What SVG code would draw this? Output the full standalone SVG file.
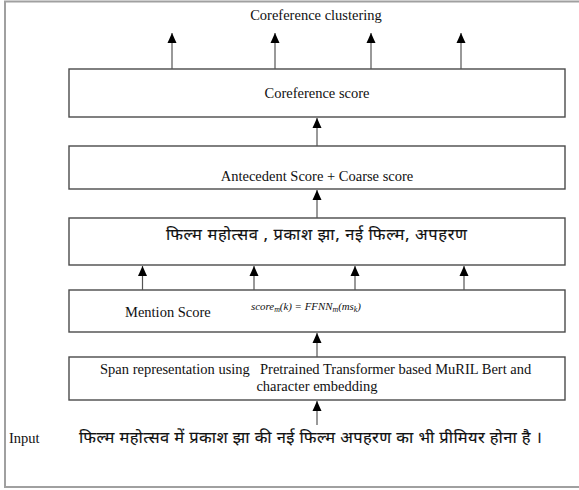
<svg xmlns="http://www.w3.org/2000/svg" width="579" height="490" viewBox="0 0 579 490">
  <style>
    .frame { fill: none; stroke: #a0a0a0; stroke-width: 2; }
    .box { fill: #ffffff; stroke: #4a4a4a; stroke-width: 1.4; }
    .lbl { font-family: "Liberation Serif", "Times New Roman", serif; font-size: 14.5px; fill: #111; }
    .hin { font-family: "Noto Sans Devanagari", "Noto Sans", "Lohit Devanagari", sans-serif; font-size: 16.5px; fill: #111; stroke: #111; stroke-width: 0.12; }
    .math { font-family: "Liberation Serif", serif; font-style: italic; font-size: 11px; fill: #111; }
    .wire { fill: none; stroke: #555; stroke-width: 1.2; marker-end: url(#head); }
  </style>
  <defs>
    <marker id="head" viewBox="0 0 10 10" refX="10" refY="5" markerWidth="10" markerHeight="10" markerUnits="userSpaceOnUse" orient="auto">
      <path d="M0,0.5 L10,5 L0,9.5 z" fill="#000"/>
    </marker>
  </defs>

  <!-- outer frame; the right edge sits just past the canvas -->
  <rect class="frame" x="5" y="1.5" width="590" height="485.5"/>

  <text class="lbl" x="316" y="20" text-anchor="middle">Coreference clustering</text>

  <g id="coref-score">
    <rect class="box" x="69" y="69" width="496" height="48"/>
    <text class="lbl" x="317" y="98" text-anchor="middle">Coreference score</text>
  </g>

  <g id="antecedent">
    <rect class="box" x="69" y="146" width="496" height="43"/>
    <text class="lbl" x="317" y="181" text-anchor="middle">Antecedent Score + Coarse score</text>
  </g>

  <g id="mentions">
    <rect class="box" x="69" y="218" width="496" height="47"/>
    <text class="hin" x="166" y="240" textLength="301" lengthAdjust="spacing">फिल्म महोत्सव , प्रकाश झा, नई फिल्म, अपहरण</text>
  </g>

  <g id="mention-score">
    <rect class="box" x="69" y="290" width="496" height="42"/>
    <text class="lbl" x="125" y="317">Mention Score</text>
    <text class="math" x="251" y="310" textLength="110" lengthAdjust="spacingAndGlyphs">score<tspan font-size="8" dy="2">m</tspan><tspan dy="-2">(k) = FFNN</tspan><tspan font-size="8" dy="2">m</tspan><tspan dy="-2">(ms</tspan><tspan font-size="8" dy="2">k</tspan><tspan dy="-2">)</tspan></text>
  </g>

  <g id="span-repr">
    <rect class="box" x="69" y="357" width="496" height="43"/>
    <text class="lbl" x="100" y="374">Span representation using</text>
    <text class="lbl" x="260" y="374">Pretrained Transformer based MuRIL Bert and</text>
    <text class="lbl" x="317" y="391" text-anchor="middle">character embedding</text>
  </g>

  <g id="input">
    <text class="lbl" x="9" y="443">Input</text>
    <text class="hin" x="79" y="443" textLength="463" lengthAdjust="spacing">फिल्म महोत्सव में प्रकाश झा की नई फिल्म अपहरण का भी प्रीमियर होना है ।</text>
  </g>

  <g id="connectors">
    <line class="wire" x1="172" y1="69" x2="172" y2="33"/>
    <line class="wire" x1="275" y1="69" x2="275" y2="33"/>
    <line class="wire" x1="371" y1="69" x2="371" y2="33"/>
    <line class="wire" x1="461" y1="69" x2="461" y2="33"/>
    <line class="wire" x1="317" y1="146" x2="317" y2="118"/>
    <line class="wire" x1="317" y1="218" x2="317" y2="190"/>
    <line class="wire" x1="142.5" y1="290" x2="142.5" y2="266"/>
    <line class="wire" x1="254" y1="290" x2="254" y2="266"/>
    <line class="wire" x1="355" y1="290" x2="355" y2="266"/>
    <line class="wire" x1="464" y1="290" x2="464" y2="266"/>
    <line class="wire" x1="317" y1="357" x2="317" y2="333"/>
    <line class="wire" x1="317" y1="425" x2="317" y2="401"/>
  </g>
</svg>
